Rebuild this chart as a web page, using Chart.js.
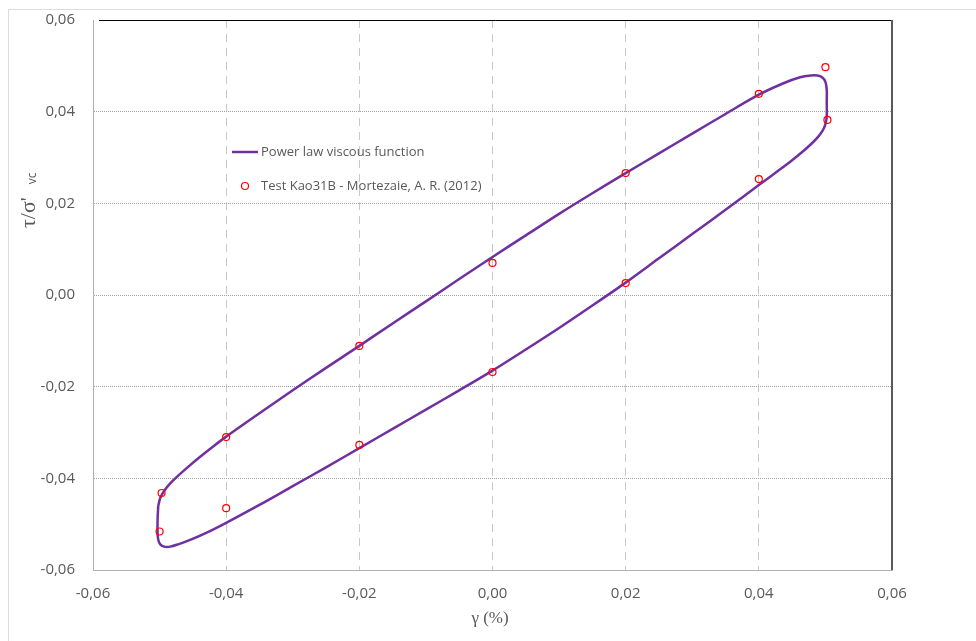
<!DOCTYPE html>
<html>
<head>
<meta charset="utf-8">
<script src="https://cdn.jsdelivr.net/npm/chart.js@4.4.1/dist/chart.umd.min.js"></script>
<style>
  html, body { margin: 0; padding: 0; background: #fff; overflow: hidden; }
  #frame { position: absolute; left: 8px; top: 9px; width: 1000px; height: 700px; border: 1px solid #dcdcdc; }
  #wrap { position: absolute; left: 0; top: 0; width: 976px; height: 641px; }
</style>
</head>
<body>
<div id="frame"></div>
<div id="wrap"><canvas id="loopChart" width="976" height="641"></canvas></div>
<script>
// Curva modelului (bucla completa)
const curveX = [-0.0502, -0.0499, -0.0493, -0.0484, -0.0472, -0.0458, -0.0440, -0.0420, -0.0400, -0.0350,
  -0.0300, -0.0250, -0.0200, -0.0150, -0.0100, -0.0050, 0.0000, 0.0050, 0.0100, 0.0150,
  0.0200, 0.0250, 0.0300, 0.0350, 0.0400, 0.0437, 0.0462, 0.0478, 0.0488, 0.0495,
  0.0500, 0.0502, 0.0502, 0.0502, 0.0500, 0.0496, 0.0489, 0.0479, 0.0466, 0.0450,
  0.0430, 0.0400, 0.0350, 0.0300, 0.0250, 0.0200, 0.0150, 0.0100, 0.0050, 0.0000,
  -0.0050, -0.0100, -0.0150, -0.0200, -0.0250, -0.0300, -0.0350, -0.0400, -0.0430, -0.0455,
  -0.0472, -0.0484, -0.0493, -0.0499, -0.0502, -0.0503, -0.0503, -0.0502];
const curveY = [-0.0460, -0.0443, -0.0427, -0.0411, -0.0394, -0.0376, -0.0354, -0.0331, -0.0309, -0.0258,
  -0.0208, -0.0159, -0.0111, -0.0062, -0.0014, 0.0035, 0.0083, 0.0130, 0.0177, 0.0222,
  0.0266, 0.0309, 0.0352, 0.0395, 0.0437, 0.0462, 0.0475, 0.0479, 0.0479, 0.0475,
  0.0465, 0.0448, 0.0420, 0.0390, 0.0373, 0.0359, 0.0345, 0.0330, 0.0313, 0.0294,
  0.0272, 0.0240, 0.0186, 0.0133, 0.0080, 0.0027, -0.0023, -0.0072, -0.0119, -0.0165,
  -0.0208, -0.0250, -0.0292, -0.0334, -0.0376, -0.0417, -0.0458, -0.0497, -0.0519, -0.0535,
  -0.0544, -0.0549, -0.0549, -0.0544, -0.0534, -0.0520, -0.0490, -0.0460];

// Punctele testului
const testX = [0.0500, 0.0503, 0.0400, 0.0400, 0.0200, 0.0200, 0.0000, 0.0000, -0.0200, -0.0200, -0.0400, -0.0400, -0.0497, -0.0500];
const testY = [0.0497, 0.0382, 0.0439, 0.0253, 0.0266, 0.0026, 0.0070, -0.0168, -0.0111, -0.0327, -0.0310, -0.0465, -0.0432, -0.0516];

const axisMin = -0.06, axisMax = 0.06, axisStep = 0.02;
const curveLabel = 'Power law viscous function';
const testLabel = 'Test Kao31B - Mortezaie, A. R. (2012)';

const fmt = v => v.toFixed(2).replace('.', ',');
const isEdge = v => Math.abs(v - axisMin) < 1e-9 || Math.abs(v - axisMax) < 1e-9;

// Legenda, titlurile axelor si marginile de sus / dreapta
const extras = {
  id: 'extras',
  afterDraw(chart) {
    const ctx = chart.ctx;
    const a = chart.chartArea;
    ctx.save();
    // margine sus si dreapta
    ctx.strokeStyle = '#000';
    ctx.lineWidth = 1;
    ctx.beginPath(); ctx.moveTo(a.left + 6, a.top + 0.5); ctx.lineTo(a.right, a.top + 0.5); ctx.stroke();
    ctx.strokeStyle = '#5a5a5a';
    ctx.lineWidth = 2;
    ctx.beginPath(); ctx.moveTo(a.right, a.top); ctx.lineTo(a.right, a.bottom); ctx.stroke();

    // legenda
    ctx.strokeStyle = '#7030a0';
    ctx.lineWidth = 2.5;
    ctx.beginPath(); ctx.moveTo(232, 152); ctx.lineTo(258, 152); ctx.stroke();
    ctx.strokeStyle = '#ff0000';
    ctx.lineWidth = 1.2;
    ctx.beginPath(); ctx.arc(245, 186, 3.5, 0, Math.PI * 2); ctx.stroke();
    ctx.fillStyle = '#595959';
    ctx.font = '13px "Open Sans"';
    ctx.textBaseline = 'middle';
    ctx.textAlign = 'left';
    ctx.fillText(curveLabel, 261, 152);
    ctx.fillText(testLabel, 261, 186);

    // titlu axa x
    ctx.font = '17px "Liberation Serif"';
    ctx.textAlign = 'center';
    ctx.textBaseline = 'alphabetic';
    ctx.fillText('γ (%)', 490, 623);

    // titlu axa y (rotit)
    ctx.translate(35, 228);
    ctx.rotate(-Math.PI / 2);
    ctx.textAlign = 'left';
    ctx.font = '22px "Liberation Serif"';
    ctx.fillText("τ/σ'", 0, 0);
    const w = ctx.measureText("τ/σ'").width;
    ctx.font = '12px "Open Sans"';
    ctx.fillText('vc', w + 13, 1);
    ctx.restore();
  }
};

const ctxLoop = document.getElementById('loopChart').getContext('2d');
new Chart(ctxLoop, {
  type: 'scatter',
  data: {
    datasets: [{
      label: testLabel,
      data: testX.map((x, i) => ({ x: x, y: testY[i] })),
      showLine: false,
      pointStyle: 'circle',
      pointRadius: 3.5,
      pointBorderWidth: 1.2,
      pointBorderColor: '#ff0000',
      pointBackgroundColor: 'rgba(0,0,0,0)'
    }, {
      label: curveLabel,
      data: curveX.map((x, i) => ({ x: x, y: curveY[i] })),
      showLine: true,
      borderColor: '#7030a0',
      borderWidth: 2.5,
      pointRadius: 0,
      tension: 0.3
    }]
  },
  options: {
    responsive: false,
    animation: false,
    layout: { padding: { left: 0, top: 20, right: 84, bottom: 0 } },
    plugins: { legend: { display: false }, tooltip: { enabled: false } },
    scales: {
      x: {
        type: 'linear', min: axisMin, max: axisMax,
        afterFit: s => { s.height = 71; s.paddingLeft = 0; s.paddingRight = 0; },
        ticks: { stepSize: axisStep, padding: 15, color: '#595959', font: { family: 'Open Sans', size: 15 }, callback: v => fmt(v) },
        grid: { drawTicks: false, color: c => isEdge(c.tick.value) ? 'rgba(0,0,0,0)' : '#c8c8c8', lineWidth: 1 },
        border: { color: '#b0b0b0', width: 1, dash: [8, 6] }
      },
      y: {
        type: 'linear', min: axisMin, max: axisMax,
        afterFit: s => { s.width = 93; s.paddingTop = 0; s.paddingBottom = 0; },
        ticks: { stepSize: axisStep, padding: 18, color: '#595959', font: { family: 'Open Sans', size: 15 }, callback: v => fmt(v) },
        grid: { drawTicks: false, color: c => isEdge(c.tick.value) ? 'rgba(0,0,0,0)' : '#a0a0a0', lineWidth: 1 },
        border: { color: '#b0b0b0', width: 1, dash: [1, 1] }
      }
    }
  },
  plugins: [extras]
});
</script>
</body>
</html>
